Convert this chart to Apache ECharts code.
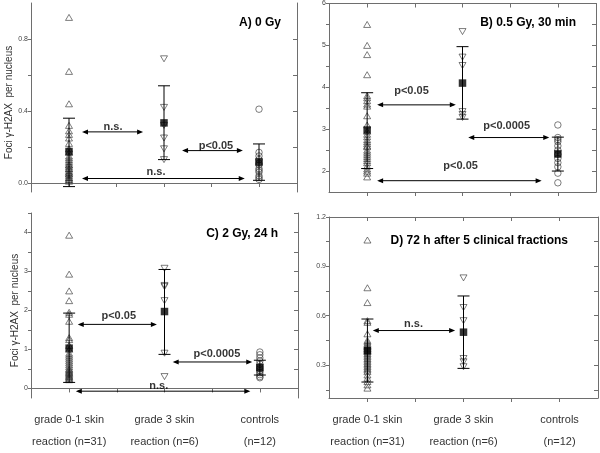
<!DOCTYPE html>
<html>
<head>
<meta charset="utf-8">
<script src="https://cdn.jsdelivr.net/npm/echarts@6/dist/echarts.min.js"></script>
<style>html,body{margin:0;padding:0;background:#fff}#c{width:600px;height:453px}</style>
</head>
<body>
<div id="c"></div>
<script>
// ---------- categories ----------
const catPos = [1, 2, 3];
const catLabels = ['grade 0-1 skin\nreaction (n=31)', 'grade 3 skin\nreaction (n=6)', 'controls\n(n=12)'];
const panelTitles = ['A) 0 Gy', 'B) 0.5 Gy, 30 min', 'C) 2 Gy, 24 h', 'D) 72 h after 5 clinical fractions'];
const yTitle = 'Foci \u03b3-H2AX  per nucleus';

// ---------- Panel A: 0 Gy ----------
const A_g01 = [0.92,0.62,0.44,0.32,0.29,0.27,0.25,0.22,0.19,0.17,0.15,0.14,0.13,0.12,0.11,0.10,0.10,0.09,0.08,0.08,0.07,0.06,0.06,0.05,0.05,0.04,0.03,0.03,0.02,0.02,0.01];
const A_g3 = [0.69,0.42,0.32,0.25,0.19,0.13];
const A_ctrl = [0.41,0.17,0.15,0.13,0.11,0.10,0.08,0.07,0.06,0.04,0.03,0.02];
const A_mean = [0.175,0.334,0.117];
const A_hi = [0.36,0.54,0.217];
const A_lo = [-0.02,0.13,0.015];
const A_yTicks = [0,0.2,0.4,0.6,0.8];
const A_yLabels = [0,0.4,0.8];

// ---------- Panel B: 0.5 Gy, 30 min ----------
const B_g01 = [5.50,5.00,4.78,4.30,3.80,3.75,3.68,3.60,3.55,3.32,3.10,2.95,2.88,2.82,2.75,2.70,2.65,2.60,2.58,2.50,2.45,2.40,2.35,2.30,2.25,2.20,2.12,2.05,2.00,1.95,1.86];
const B_g3 = [5.33,4.72,4.52,3.42,3.35,3.28];
const B_ctrl = [3.10,2.80,2.75,2.70,2.60,2.50,2.40,2.30,2.20,2.10,1.95,1.72];
const B_mean = [2.98,4.10,2.41];
const B_hi = [3.87,4.97,2.81];
const B_lo = [2.06,3.24,2.00];
const B_yTicks = [2,2.5,3,3.5,4,4.5,5,5.5,6];
const B_yLabels = [2,3,4,5,6];

// ---------- Panel C: 2 Gy, 24 h ----------
const C_g01 = [3.93,2.93,2.50,2.25,1.95,1.90,1.72,1.30,1.25,1.10,1.00,0.90,0.85,0.80,0.75,0.70,0.65,0.60,0.55,0.50,0.48,0.45,0.42,0.40,0.38,0.35,0.32,0.30,0.28,0.25,0.22];
const C_g3 = [3.08,2.64,2.61,2.25,0.90,0.30];
const C_ctrl = [0.93,0.86,0.78,0.70,0.62,0.55,0.50,0.45,0.40,0.35,0.30,0.27];
const C_mean = [1.03,1.97,0.53];
const C_hi = [1.93,3.05,0.72];
const C_lo = [0.15,0.87,0.34];
const C_yTicks = [0,0.5,1,1.5,2,2.5,3,3.5,4,4.5];
const C_yLabels = [0,1,2,3,4];

// ---------- Panel D: 72 h after 5 clinical fractions ----------
const D_g01 = [1.06,0.77,0.68,0.57,0.56,0.49,0.45,0.44,0.43,0.42,0.41,0.40,0.39,0.38,0.37,0.36,0.35,0.34,0.33,0.32,0.31,0.30,0.29,0.28,0.27,0.26,0.24,0.22,0.20,0.18,0.16];
const D_g3 = [0.83,0.65,0.57,0.34,0.32,0.29];
const D_ctrl = [];
const D_mean = [0.387,0.50];
const D_hi = [0.58,0.72];
const D_lo = [0.197,0.28];
const D_yTicks = [0.15,0.3,0.45,0.6,0.75,0.9,1.05,1.2];
const D_yLabels = [0.3,0.6,0.9,1.2];

// ---------- significance arrows: [xStart, xEnd, y] and labels ----------
const A_arrows = [[1.137,1.78,0.284],[2.19,2.83,0.18],[1.137,2.85,0.025]];
const A_arrowText = ['n.s.','p<0.05','n.s.'];
const A_textPos = [[1.463,0.310],[2.547,0.204],[1.916,0.060]];
const B_arrows = [[1.105,1.93,3.58],[2.06,2.91,2.80],[1.105,2.83,1.77]];
const B_arrowText = ['p<0.05','p<0.0005','p<0.05'];
const B_textPos = [[1.465,3.90],[2.463,3.08],[1.98,2.11]];
const C_arrows = [[1.09,1.92,1.64],[2.086,2.92,0.675],[1.07,2.90,-0.075]];
const C_arrowText = ['p<0.05','p<0.0005','n.s.'];
const C_textPos = [[1.52,1.86],[2.55,0.875],[1.94,0.065]];
const D_arrows = [[1.056,1.913,0.51]];
const D_arrowText = ['n.s.'];
const D_textPos = [[1.48,0.547]];

// ---------- layout ----------
const panels = [
  {g01:A_g01,g3:A_g3,ctrl:A_ctrl,mean:A_mean,hi:A_hi,lo:A_lo,yMin:-0.05,yMax:1.0,yTicks:A_yTicks,yLabels:A_yLabels,dec:1,arrows:A_arrows,txt:A_arrowText,txtPos:A_textPos,
   grid:{left:31,top:3,width:266,height:189},title:{right:314,top:12},yName:true,xLab:false},
  {g01:B_g01,g3:B_g3,ctrl:B_ctrl,mean:B_mean,hi:B_hi,lo:B_lo,yMin:1.5,yMax:6,yTicks:B_yTicks,yLabels:B_yLabels,dec:0,arrows:B_arrows,txt:B_arrowText,txtPos:B_textPos,
   grid:{left:329,top:3,width:267,height:189},title:{right:19,top:12},yName:false,xLab:false},
  {g01:C_g01,g3:C_g3,ctrl:C_ctrl,mean:C_mean,hi:C_hi,lo:C_lo,yMin:-0.25,yMax:4.5,yTicks:C_yTicks,yLabels:C_yLabels,dec:0,arrows:C_arrows,txt:C_arrowText,txtPos:C_textPos,
   grid:{left:31,top:213,width:267,height:191},title:{right:317,top:223},yName:true,xLab:true},
  {g01:D_g01,g3:D_g3,ctrl:D_ctrl,mean:D_mean,hi:D_hi,lo:D_lo,yMin:0.1,yMax:1.2,yTicks:D_yTicks,yLabels:D_yLabels,dec:1,arrows:D_arrows,txt:D_arrowText,txtPos:D_textPos,
   grid:{left:329,top:217,width:269,height:188},title:{right:27,top:230},yName:false,xLab:true}
];

const axisCol = '#6e6e6e';
const grids = [], xAxes = [], yAxes = [], series = [], titles = [];

function errRender(params, api) {
  const x = api.value(0), lo = api.value(1), hi = api.value(2);
  const a = api.coord([x, lo]), b = api.coord([x, hi]);
  const w = 6;
  const st = {stroke:'#000', lineWidth:1};
  return {type:'group', children:[
    {type:'line', shape:{x1:a[0],y1:a[1],x2:b[0],y2:b[1]}, style:st},
    {type:'line', shape:{x1:a[0]-w,y1:a[1],x2:a[0]+w,y2:a[1]}, style:st},
    {type:'line', shape:{x1:b[0]-w,y1:b[1],x2:b[0]+w,y2:b[1]}, style:st}
  ]};
}
function arrowRender(params, api) {
  const x1 = api.value(0), x2 = api.value(1), y = api.value(2);
  const a = api.coord([x1, y]), b = api.coord([x2, y]);
  const L = 6, h = 2.5;
  return {type:'group', children:[
    {type:'line', shape:{x1:a[0]+2,y1:a[1],x2:b[0]-2,y2:b[1]}, style:{stroke:'#000',lineWidth:1}},
    {type:'polygon', shape:{points:[[a[0],a[1]],[a[0]+L,a[1]-h],[a[0]+L,a[1]+h]]}, style:{fill:'#000'}},
    {type:'polygon', shape:{points:[[b[0],b[1]],[b[0]-L,b[1]-h],[b[0]-L,b[1]+h]]}, style:{fill:'#000'}}
  ]};
}

panels.forEach((p, i) => {
  grids.push(Object.assign({containLabel:false}, p.grid));
  titles.push({text: panelTitles[i], right: p.title.right, top: p.title.top,
    textStyle:{fontFamily:'Liberation Sans, Arial', fontSize:12, fontWeight:'bold', color:'#000'}});
  const xCommon = {type:'value', gridIndex:i, min:0.6, max:3.4, splitLine:{show:false},
    axisLine:{show:true, lineStyle:{color:axisCol, width:1}}};
  xAxes.push(Object.assign({}, xCommon, {position:'bottom',
    axisTick:{show:true, inside:false, length:4, customValues:[1,1.5,2,2.5,3], lineStyle:{color:axisCol}},
    axisLabel:{show:p.xLab, customValues:catPos, formatter:v => catLabels[Math.round(v)-1] || '',
      fontFamily:'Liberation Sans, Arial', fontSize:11, color:'#333', lineHeight:22, margin:11}}));
  xAxes.push(Object.assign({}, xCommon, {position:'top',
    axisTick:{show:true, inside:true, length:4, customValues:[1,1.5,2,2.5,3], lineStyle:{color:axisCol}},
    axisLabel:{show:false}}));
  const yCommon = {type:'value', gridIndex:i, min:p.yMin, max:p.yMax, splitLine:{show:false},
    axisLine:{show:true, lineStyle:{color:axisCol, width:1}}};
  yAxes.push(Object.assign({}, yCommon, {position:'left',
    name: p.yName ? yTitle : '', nameLocation:'middle', nameGap:11, nameRotate:90,
    nameTextStyle:{fontFamily:'Liberation Sans, Arial', fontSize:10, color:'#333', padding:[0,10,0,0]},
    axisTick:{show:true, inside:false, length:3, customValues:p.yTicks, lineStyle:{color:axisCol}},
    axisLabel:{show:true, customValues:p.yLabels, formatter:v => Number(v).toFixed(p.dec),
      fontFamily:'Liberation Sans, Arial', fontSize:7, color:'#444', margin:3}}));
  yAxes.push(Object.assign({}, yCommon, {position:'right',
    axisTick:{show:true, inside:true, length:4, customValues:p.yTicks, lineStyle:{color:axisCol}},
    axisLabel:{show:false}}));
  const xi = 2*i, yi = 2*i;
  const hollow = {color:'rgba(0,0,0,0)', borderColor:'#333', borderWidth:0.8};
  series.push({type:'scatter', xAxisIndex:xi, yAxisIndex:yi, symbol:'triangle', symbolSize:[7,6], z:2,
    itemStyle:hollow, data:p.g01.map(v => [catPos[0], v]), silent:true});
  series.push({type:'scatter', xAxisIndex:xi, yAxisIndex:yi, symbol:'triangle', symbolRotate:180, symbolSize:[7,6], z:2,
    itemStyle:hollow, data:p.g3.map(v => [catPos[1], v]), silent:true});
  if (p.ctrl.length) series.push({type:'scatter', xAxisIndex:xi, yAxisIndex:yi, symbol:'circle', symbolSize:6.5, z:2,
    itemStyle:hollow, data:p.ctrl.map(v => [catPos[2], v]), silent:true});
  series.push({type:'custom', xAxisIndex:xi, yAxisIndex:yi, z:3, renderItem:errRender,
    encode:{x:0, y:[1,2]}, data:p.mean.map((m, k) => [catPos[k], p.lo[k], p.hi[k]]), silent:true});
  series.push({type:'scatter', xAxisIndex:xi, yAxisIndex:yi, symbol:'rect', symbolSize:7.5, z:4,
    itemStyle:{color:'#000'}, data:p.mean.map((m, k) => [catPos[k], m]), silent:true});
  series.push({type:'custom', xAxisIndex:xi, yAxisIndex:yi, z:5, renderItem:arrowRender,
    encode:{x:[0,1], y:2}, data:p.arrows, silent:true});
  series.push({type:'scatter', xAxisIndex:xi, yAxisIndex:yi, symbolSize:0, z:6, silent:true,
    label:{show:true, position:'inside', formatter:d => d.name,
      fontFamily:'Liberation Sans, Arial', fontSize:11, fontWeight:'bold', color:'#000'},
    data:p.txt.map((t, k) => ({name:t, value:p.txtPos[k]}))});
});

const chart = echarts.init(document.getElementById('c'), null, {renderer:'canvas'});
chart.setOption({animation:false, backgroundColor:'#fff', title:titles, grid:grids, xAxis:xAxes, yAxis:yAxes, series:series});
</script>
</body>
</html>
